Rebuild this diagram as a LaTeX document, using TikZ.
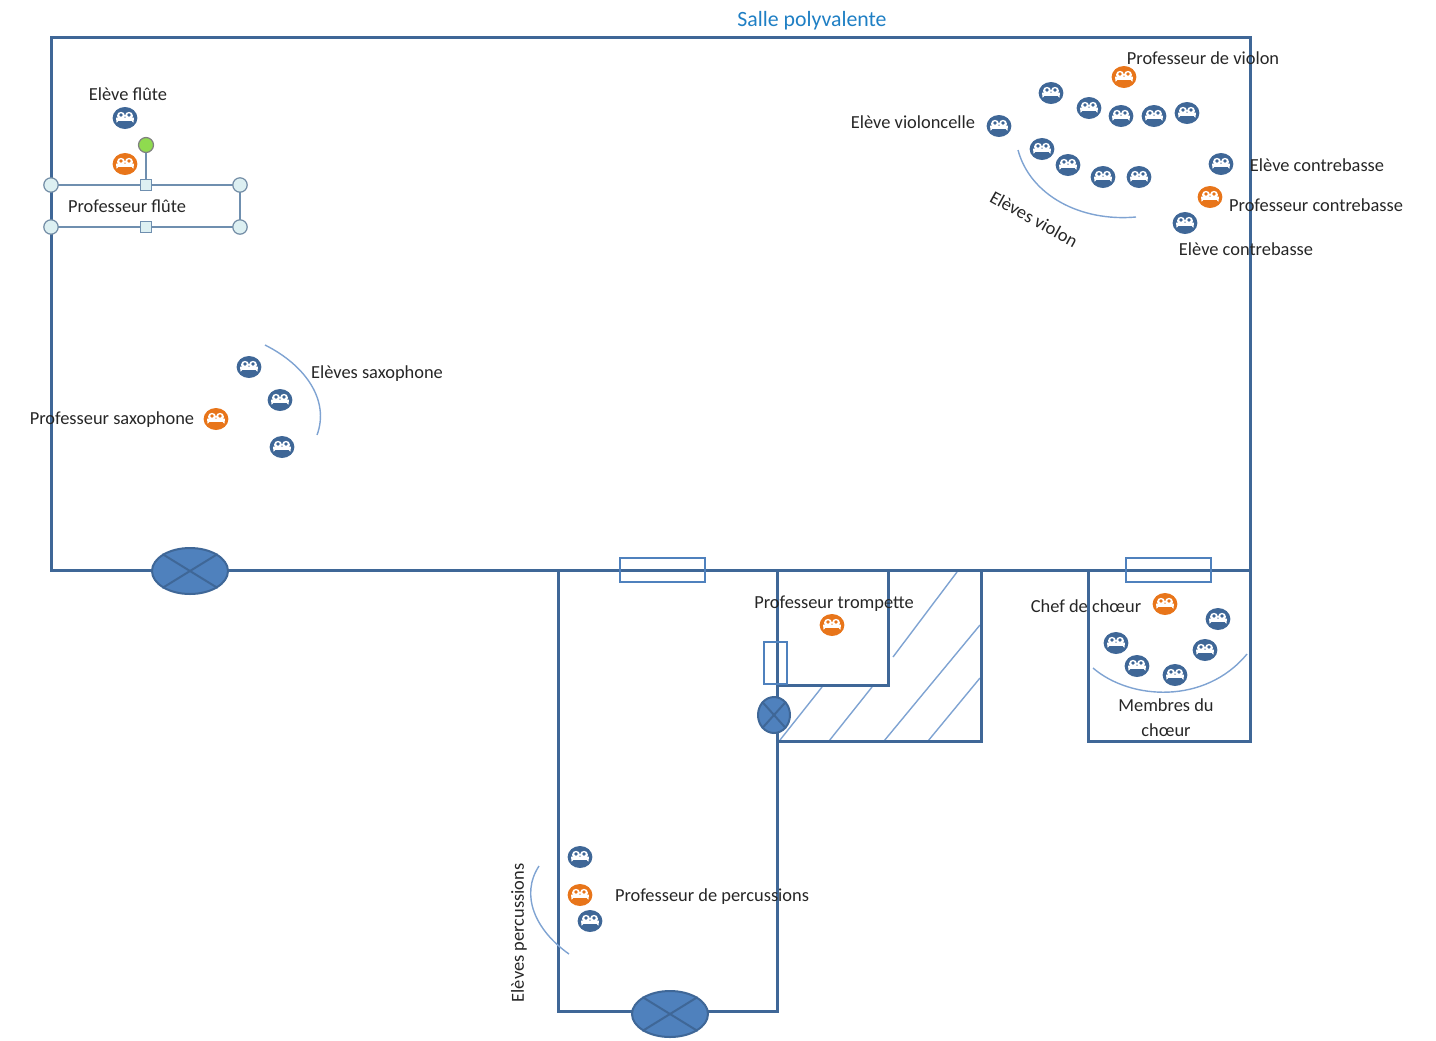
\documentclass[tikz,border=0pt]{standalone}
\usepackage{fontspec}
\setmainfont{Carlito}
\usetikzlibrary{shapes.geometric}
\definecolor{wall}{HTML}{3F6797}
\definecolor{thin}{HTML}{7FA3D2}
\definecolor{win}{HTML}{4F81BD}
\definecolor{faceblue}{HTML}{3F6797}
\definecolor{faceorange}{HTML}{E8751A}
\definecolor{title}{HTML}{1F7FC4}
\definecolor{handle}{HTML}{DDF0F2}
\definecolor{handleline}{HTML}{6F8FAF}
\definecolor{handlegreen}{HTML}{8FDB4F}
\tikzset{
  wallline/.style={draw=wall,line width=1.5pt},
  thinline/.style={draw=thin,line width=0.7pt},
  winbox/.style={draw=win,line width=1.4pt},
  door/.style={ellipse,draw=wall,fill=win,line width=1pt,inner sep=0pt},
  doorx/.style={draw=wall,line width=1pt},
  lbl/.style={font=\fontsize{9.2}{11}\selectfont,text=black!85,inner sep=0pt,align=center},
  ttl/.style={font=\fontsize{10.9}{12}\selectfont,text=title,inner sep=0pt},
  facebody/.style={ellipse,minimum width=12.4pt,minimum height=11pt,inner sep=0pt},
  hround/.style={circle,draw=handleline!80!gray,fill=handle,line width=0.6pt,minimum size=7.2pt,inner sep=0pt},
  hsquare/.style={rectangle,draw=handleline,fill=handle,line width=0.6pt,minimum size=5.5pt,inner sep=0pt},
  hgreen/.style={circle,draw=gray,fill=handlegreen,line width=0.6pt,minimum size=7.5pt,inner sep=0pt},
  selline/.style={draw=handleline,line width=0.8pt},
}
\newcommand{\facemark}[4]{% name, x, y, colour
  \node[facebody,fill=#4] (#1) at (#2,#3) {};
  \fill[white] ([shift={(-4.5pt,0.2pt)}]#1.center) -- ++(9pt,0) -- ++(-0.3pt,-2.6pt) -- ++(-0.9pt,1pt) -- ++(-6.6pt,0) -- ++(-0.9pt,-1pt) -- cycle;
  \fill[white] ([shift={(-2pt,1.1pt)}]#1.center) circle (2pt);
  \fill[white] ([shift={(2pt,1.1pt)}]#1.center) circle (2pt);
  \fill[#4] ([shift={(-2pt,1.5pt)}]#1.center) circle (0.95pt);
  \fill[#4] ([shift={(2pt,1.5pt)}]#1.center) circle (0.95pt);
}
\begin{document}
\begin{tikzpicture}[x=0.5pt,y=-0.5pt]
\useasboundingbox (0,0) rectangle (1436,1040);
% hatching
\foreach \a/\b/\c/\d in {893/657/957/572,780/740/822/687,829/741/872/687,884/741/980/625,928/741/980/678}
  \draw[thinline] (\a,\b) -- (\c,\d);
% walls
\draw[wallline] (51,37) rectangle (1250,570);
\draw[wallline] (558,570) -- (558,1011) -- (777,1011) -- (777,570);
\draw[wallline] (777,685) -- (888,685) -- (888,570);
\draw[wallline] (777,741) -- (981,741) -- (981,570);
\draw[wallline] (1088,570) -- (1088,741) -- (1250,741) -- (1250,570);
% windows
\draw[winbox] (620,558) rectangle (705,582);
\draw[winbox] (1126,558) rectangle (1211,582);
\draw[winbox] (764,642) rectangle (787,684);
% doors
\node[door,minimum width=38pt,minimum height=23pt] (d1) at (190,571) {};
\draw[doorx] (d1.north west) -- (d1.south east) (d1.north east) -- (d1.south west);
\node[door,minimum width=38pt,minimum height=23pt] (d2) at (670,1014) {};
\draw[doorx] (d2.north west) -- (d2.south east) (d2.north east) -- (d2.south west);
\node[door,minimum width=16pt,minimum height=18pt] (d3) at (774,715) {};
\draw[doorx] (d3.north west) -- (d3.south east) (d3.north east) -- (d3.south west);
% arcs
\draw[thinline] (265,345) .. controls (305,365) and (330,400) .. (317,435);
\draw[thinline] (1018,150) .. controls (1030,195) and (1080,222) .. (1136,217);
\draw[thinline] (1093,668) .. controls (1130,700) and (1205,705) .. (1247,654);
\draw[thinline] (539,866) .. controls (520,895) and (535,930) .. (569,954);
% selection frame
\coordinate (s1) at (51,185); \coordinate (s2) at (240,185);
\coordinate (s3) at (240,227); \coordinate (s4) at (51,227);
\draw[selline] (s1) -- (s2) -- (s3) -- (s4);
\node[hgreen] (hg) at (146,145) {};
\node[hsquare] (ht) at (146,185) {};
\node[hsquare] (hb) at (146,227) {};
\draw[selline] (hg) -- (ht);
\node[hround] at (s1) {}; \node[hround] at (s2) {};
\node[hround] at (s3) {}; \node[hround] at (s4) {};
% blue faces
\foreach \n/\x/\y in {a/125/118,b/1051/93,c/1089/108,e/1121/116,f/1154/116,g/1187/113,h/999/126,i/1042/149,j/1068/165,k/1103/177,l/1139/177,m/1221/164,o/1185/223,p/249/367,q/280/400,r/282/447,s/1218/619,t/1116/643,u/1205/650,v/1137/666,w/1175/675,y/580/857,z/590/921}
  {\facemark{fb\n}{\x}{\y}{faceblue}}
% orange faces
\foreach \n/\x/\y in {a/125/164,b/1124/77,c/1210/197,e/216/419,f/832/625,g/1165/604,h/580/895}
  {\facemark{fo\n}{\x}{\y}{faceorange}}
% labels
\node[ttl] (t0) at (812,21) {Salle polyvalente};
\node[lbl] (t1) at (128,94) {Elève flûte};
\node[lbl] (t2) at (127,206) {Professeur flûte};
\node[lbl] (t3) at (1203,58) {Professeur de violon};
\node[lbl] (t4) at (913,122) {Elève violoncelle};
\node[lbl,rotate=-29] (t5) at (1034,219) {Elèves violon};
\node[lbl] (t6) at (1317,165) {Elève contrebasse};
\node[lbl] (t7) at (1316,205) {Professeur contrebasse};
\node[lbl] (t8) at (1246,249) {Elève contrebasse};
\node[lbl] (t9) at (377,374) {Elèves saxophone};
\node[lbl] (t10) at (112,420) {Professeur saxophone};
\node[lbl] (t11) at (834,604) {Professeur trompette};
\node[lbl] (t12) at (1086,606) {Chef de chœur};
\node[lbl] (t13) at (1166,705) {Membres du};
\node[lbl] (t14) at (1166,730) {chœur};
\node[lbl] (t15) at (712,897) {Professeur de percussions};
\node[lbl,rotate=90] (t16) at (519,933) {Elèves percussions};
\end{tikzpicture}
\end{document}
